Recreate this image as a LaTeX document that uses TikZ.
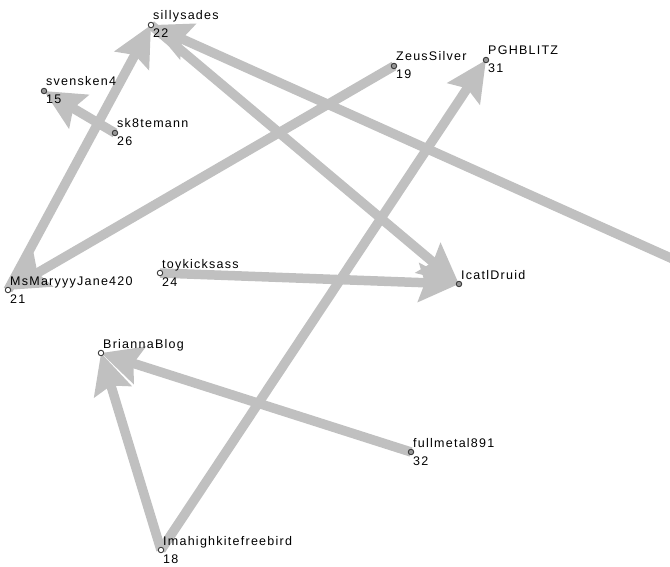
\documentclass[tikz,border=0pt]{standalone}
\usepackage{fontspec}
\setmainfont{Liberation Sans}[LetterSpace=10]
\usetikzlibrary{calc,arrows.meta}
\definecolor{edgegray}{RGB}{192,192,192}
\definecolor{dotline}{RGB}{60,60,60}
\definecolor{dotgray}{RGB}{150,150,150}
\tikzset{
 tw edge/.style={line width=9.5pt,draw=edgegray,
                 -{Stealth[length=40pt,width=38pt,inset=6pt]}},
 tw vertex/.style={circle,draw=dotline,line width=.9pt,minimum size=5.5pt,
                   inner sep=0pt,outer sep=0pt},
 tw name/.style={anchor=base west,inner sep=0pt,
                 font=\fontsize{12.5}{12.5}\selectfont},
 tw count/.style={anchor=base west,inner sep=0pt,
                  font=\fontsize{12.5}{12.5}\selectfont}
}

\begin{document}
\begin{tikzpicture}[x=1pt,y=-1pt]
 \useasboundingbox (0,0) rectangle (670,567);
 \clip (0,0) rectangle (670,567);
 % users
 \foreach \v/\x/\y in {syl/151/25,sven/44/91,sk8/115/133,zeus/394/66,
                       pgh/486/60,ms/8/290,toy/160/273,icatl/459/284,
                       bri/101/353,full/411/452,imah/161/550}{
   \coordinate (\v) at (\x,\y);
 }
 \coordinate (off) at (780,307);
 % replies
 \foreach \s/\t in {ms/syl,zeus/ms,sk8/sven,syl/icatl,toy/icatl,
                    off/syl,imah/pgh,imah/bri,full/bri}{
   \draw[tw edge] (\s)--(\t);
 }
 \foreach \v/\c in {syl/white,sven/dotgray,sk8/dotgray,zeus/dotgray,
                    pgh/dotgray,ms/white,toy/white,icatl/dotgray,
                    bri/white,full/dotgray,imah/white}{
   \node[tw vertex,fill=\c] (\v-dot) at (\v) {};
 }
 \foreach \v/\t in {syl/sillysades,sven/svensken4,sk8/sk8temann,
                    zeus/ZeusSilver,pgh/PGHBLITZ,ms/MsMaryyyJane420,
                    toy/toykicksass,icatl/IcatlDruid,bri/BriannaBlog,
                    full/fullmetal891,imah/Imahighkitefreebird}{
   \node[tw name] (\v-name) at ($(\v)+(2,-5)$) {\t};
 }
 \foreach \v/\n in {syl/22,sven/15,sk8/26,zeus/19,pgh/31,ms/21,
                    toy/24,full/32,imah/18}{
   \node[tw count] (\v-count) at ($(\v)+(2,13)$) {\n};
 }
\end{tikzpicture}
\end{document}
